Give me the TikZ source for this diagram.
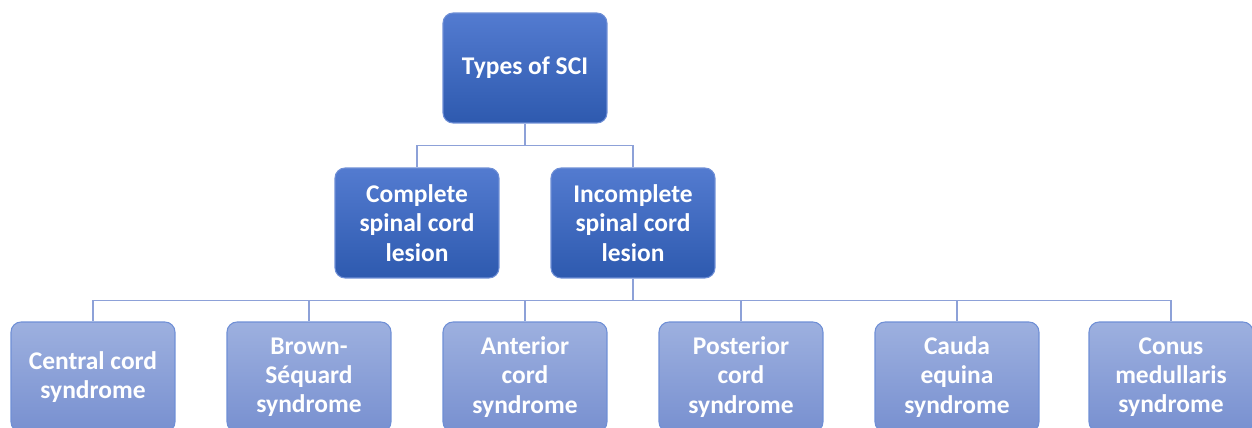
\documentclass[tikz,border=0pt]{standalone}
\usepackage{fontspec}
\setmainfont{Carlito}
\usetikzlibrary{positioning}
\definecolor{darktop}{HTML}{537BD0}
\definecolor{darkbot}{HTML}{2E5AAF}
\definecolor{lighttop}{HTML}{9DB0DF}
\definecolor{lightbot}{HTML}{7890D0}
\definecolor{edge}{HTML}{6F8FD6}
\definecolor{linkc}{HTML}{8DA1D8}
\tikzset{
  box/.style={rectangle, rounded corners=0.2cm, minimum width=3.28cm, minimum height=2.2cm,
    align=center, inner sep=0pt, draw=edge, line width=0.6pt,
    text=white, font=\fontsize{14.5}{16.6}\selectfont\bfseries},
  dark/.style={box, top color=darktop, bottom color=darkbot},
  light/.style={box, top color=lighttop, bottom color=lightbot},
  link/.style={draw=linkc, line width=0.9pt},
}
\begin{document}
\begin{tikzpicture}[x=0.02cm,y=-0.02cm]
  \useasboundingbox (0,0) rectangle (1252,428);
  \clip (0,0) rectangle (1252,428);

  % top level
  \node[dark] (sci) at (525,68) {Types of SCI};

  % second level
  \node[dark] (comp) at (417,223) {Complete\\spinal cord\\lesion};
  \node[dark] (incomp) at (633,223) {Incomplete\\spinal cord\\lesion};

  % syndromes
  \node[light] (central) at (93,377) {Central cord\\syndrome};
  \node[light] (brown) at (309,377) {Brown-\\Séquard\\syndrome};
  \node[light] (anterior) at (525,377) {Anterior\\cord\\syndrome};
  \node[light] (posterior) at (741,377) {Posterior\\cord\\syndrome};
  \node[light] (cauda) at (957,377) {Cauda\\equina\\syndrome};
  \node[light] (conus) at (1171,377) {Conus\\medullaris\\syndrome};

  % connectors
  \draw[link] (sci.south) -- ++(0,22) coordinate (j1);
  \draw[link] (j1) -| (comp.north);
  \draw[link] (j1) -| (incomp.north);

  \draw[link] (incomp.south) -- ++(0,22) coordinate (j2);
  \foreach \c in {central,brown,anterior,posterior,cauda,conus}
    \draw[link] (j2) -| (\c.north);
\end{tikzpicture}
\end{document}
